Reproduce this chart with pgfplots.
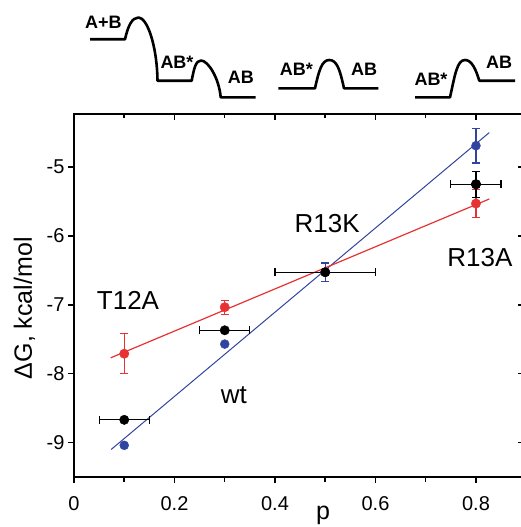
\documentclass[border=0pt]{standalone}
\usepackage{pgfplots}
\pgfplotsset{compat=1.18}
\usepackage{fontspec}
\setmainfont{Liberation Sans}
\definecolor{myblue}{RGB}{48,68,160}
\definecolor{myred}{RGB}{230,50,50}
\begin{document}
\begin{tikzpicture}
\useasboundingbox (0pt,0pt) rectangle (521pt,-527pt);
% energy schematics
\begin{scope}[x=1pt,y=-1pt,line width=2.6pt,line join=round]
\draw (90,39.3) -- (125,39.3) .. controls (128,26) and (132,17.5) .. (138.5,17.5) .. controls (147,17.5) and (157,45) .. (157.5,80.7) -- (191.7,80.7) .. controls (194,68) and (196,60.5) .. (201,60.5) .. controls (208,60.5) and (219,78) .. (220.7,97.3) -- (255.7,97.3);
\draw (278.3,88.3) -- (315,88.3) .. controls (319,70) and (322,60) .. (329.3,60) .. controls (337,60) and (340,70) .. (344,88.3) -- (378.3,88.3);
\draw (415,97.3) -- (450,97.3) .. controls (455,75) and (457,60) .. (465,60) .. controls (472,60) and (476,70) .. (479.3,80.7) -- (515,80.7);
\begin{scope}[every node/.style={anchor=base,inner sep=0pt,font=\fontsize{18}{20}\selectfont\bfseries}]
\node at (103.3,28.3) {A+B};
\node at (177,68.3) {AB*};
\node at (240.8,83.3) {AB};
\node at (296.3,75) {AB*};
\node at (364.2,75) {AB};
\node at (431,85) {AB*};
\node at (499.2,68.3) {AB};
\end{scope}
\end{scope}
% top/right inward ticks
\begin{axis}[
 at={(74pt,-477pt)}, anchor=south west,
 scale only axis, width=449.7pt, height=363pt,
 xmin=0, xmax=0.895, ymin=-9.5, ymax=-4.23,
 axis line style={draw=none},
 tick pos=right, tick align=inside,
 every tick/.style={black, line width=1.5pt},
 major tick length=6pt, minor tick length=4pt,
 xtick={0,0.2,0.4,0.6,0.8}, minor xtick={0.1,0.3,0.5,0.7},
 ytick={-9,-8,-7,-6,-5},
 xticklabels={}, yticklabels={},
]
\end{axis}
\begin{axis}[
 at={(74pt,-477pt)}, anchor=south west,
 scale only axis, width=449.7pt, height=363pt,
 xmin=0, xmax=0.895, ymin=-9.5, ymax=-4.23,
 axis line style={line width=1.5pt},
 tick pos=left, tick align=outside,
 every tick/.style={black, line width=1.5pt},
 major tick length=6pt, minor tick length=5pt,
 xtick={0,0.2,0.4,0.6,0.8}, xticklabels={0,0.2,0.4,0.6,0.8},
 minor xtick={0.1,0.3,0.5,0.7},
 ytick={-9,-8,-7,-6,-5}, yticklabels={-9,-8,-7,-6,-5},
 ticklabel style={font=\fontsize{20}{24}\selectfont},
 xticklabel style={yshift=-10pt},
 xlabel={p}, ylabel={ΔG, kcal/mol},
 label style={font=\fontsize{25}{30}\selectfont},
 xlabel style={at={(axis description cs:0.554,0)}, anchor=base, yshift=-42pt},
 ylabel style={at={(axis description cs:-0.11,0.465)}, anchor=center},
 clip=false,
 ebar/.style={error bar style={line width=1.2pt}, error mark options={rotate=90, mark size=4pt, line width=1.2pt}},
]
\addplot[myblue, line width=1pt] coordinates {(0.074,-9.10) (0.8265,-4.50)};
\addplot[myred, line width=1.2pt] coordinates {(0.073,-7.77) (0.8265,-5.464)};
% red points
\addplot[myred, only marks, mark=*, mark size=4.7pt,
  error bars/.cd, y dir=both, y explicit,
  error bar style={line width=1.2pt}, error mark options={rotate=90, mark size=4pt, line width=1.2pt}]
  coordinates {(0.1,-7.71) +- (0,0.29) (0.3,-7.035) +- (0,0.10) (0.8,-5.53) +- (0,0.2)};
\addplot[myred, only marks, mark=*, mark size=4.7pt] coordinates {(0.5,-6.527)};
% blue points
\addplot[myblue, only marks, mark=*, mark size=4.5pt] coordinates {(0.1,-9.04) (0.3,-7.57)};
\addplot[myblue, only marks, mark=*, mark size=4.5pt,
  error bars/.cd, y dir=both, y explicit,
  error bar style={line width=1.2pt}, error mark options={rotate=90, mark size=4pt, line width=1.2pt}]
  coordinates {(0.5,-6.527) +- (0,0.135) (0.8,-4.69) +- (0,0.25)};
% black points
\addplot[black, only marks, mark=*, mark size=4.7pt,
  error bars/.cd, y dir=both, y explicit,
  error bar style={line width=1.2pt}, error mark options={rotate=90, mark size=4pt, line width=1.2pt}]
  coordinates {(0.8,-5.25) +- (0,0.19)};
\addplot[black, only marks, mark=*, mark size=4.7pt,
  error bars/.cd, x dir=both, x explicit,
  error bar style={line width=1.2pt}, error mark options={rotate=90, mark size=4pt, line width=1.2pt}]
  coordinates {(0.1,-8.67) +- (0.05,0) (0.3,-7.37) +- (0.05,0) (0.5,-6.527) +- (0.1,0) (0.8,-5.25) +- (0.05,0)};
% labels
\begin{scope}[every node/.style={font=\fontsize{26}{30}\selectfont}]
\node at (axis cs:0.1075,-6.943) {T12A};
\node at (axis cs:0.318,-8.306) {wt};
\node at (axis cs:0.504,-5.82) {R13K};
\node at (axis cs:0.808,-6.32) {R13A};
\end{scope}
\end{axis}
\end{tikzpicture}
\end{document}
